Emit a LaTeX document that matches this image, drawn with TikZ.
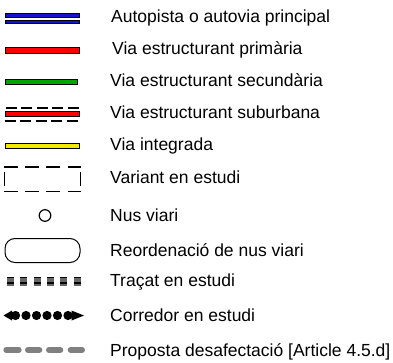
\documentclass[tikz,border=0pt]{standalone}
\usepackage{fontspec}
\setmainfont{Liberation Sans}
\definecolor{roadblue}{RGB}{20,20,200}
\definecolor{roadred}{RGB}{255,0,0}
\definecolor{roadgreen}{RGB}{0,165,0}
\definecolor{roadyellow}{RGB}{245,235,0}
\definecolor{propgray}{RGB}{128,128,128}
\begin{document}
\begin{tikzpicture}[x=1pt,y=-1pt,
  lbl/.style={anchor=base west,inner sep=0pt,font=\fontsize{17.5}{20}\selectfont},
  bar/.style={draw=black,line width=0.8pt},
  dashrow/.style={line width=2pt,dash pattern=on 11pt off 4.5pt},
  boxdash/.style={line width=1.3pt,dash pattern=on 13.5pt off 7.7pt},
  bead/.style={fill=black,draw=none}]
\useasboundingbox (0,0) rectangle (393,363);
% 1 Autopista
\filldraw[bar,fill=roadblue] (5,13.5) rectangle (79,17.5);
\filldraw[bar,fill=roadblue] (5,20.6) rectangle (79,23);
\node[lbl] (t1) at (111,23) {Autopista o autovia principal};
% 2 primaria
\filldraw[bar,fill=roadred] (5.5,47) rectangle (79,53);
\node[lbl] (t2) at (112,55) {Via estructurant primària};
% 3 secundaria
\filldraw[bar,fill=roadgreen] (5.5,79.5) rectangle (77.5,84.5);
\node[lbl] (t3) at (110,87) {Via estructurant secundària};
% 4 suburbana
\draw[dashrow] (5.5,108.3) -- (78.5,108.3);
\filldraw[bar,fill=roadred] (5.5,111.2) rectangle (79,116.8);
\draw[dashrow] (4.5,120.6) -- (78.5,120.6);
\node[lbl] (t4) at (110,119) {Via estructurant suburbana};
% 5 integrada
\filldraw[bar,fill=roadyellow] (5,143.5) rectangle (79,148.5);
\node[lbl] (t5) at (110,151) {Via integrada};
% 6 variant
\draw[boxdash] (4,167) -- (81,167);
\draw[boxdash] (4,191.5) -- (81,191.5);
\draw[line width=1.3pt] (4.4,172) -- (4.4,186);
\draw[line width=1.3pt] (80.6,172) -- (80.6,186);
\node[lbl] (t6) at (110,184) {Variant en estudi};
% 7 nus viari
\draw[line width=1.2pt] (45,215.5) circle (5.8);
\node[lbl] (t7) at (110,222) {Nus viari};
% 8 reordenacio
\draw[line width=1pt,rounded corners=10pt] (5,238.5) rectangle (80,262.5);
\node[lbl] (t8) at (110,256) {Reordenació de nus viari};
% 9 tracat
\foreach \x in {6.7,20.1,33.5,46.9,60.3,73.7}{
  \fill[propgray!80!black] (\x,277) rectangle ++(7,9);
  \draw[line width=1.2pt] (\x,277.6) -- ++(7,0);
  \draw[line width=1.2pt] (\x,283) -- ++(7,0);
}
\node[lbl] (t9) at (110,286) {Traçat en estudi};
% 10 corredor
\fill[bead] (3.5,315.5) -- (12,310.5) -- (12,320.5) -- cycle;
\foreach \x in {15.5,26,36.5,47,57.5,68}{\fill[bead] (\x,315.5) circle (4.6);}
\fill[bead] (84,315.5) -- (71.5,310.5) -- (71.5,320.5) -- cycle;
\node[lbl] (t10) at (110,321) {Corredor en estudi};
% 11 proposta
\foreach \a/\b in {6.3/18.7,28/39.3,49/60.3,70.7/82}{
  \draw[propgray,line width=6pt,line cap=round] (\a,350) -- (\b,350);
}
\node[lbl] (t11) at (110,356) {Proposta desafectació [Article 4.5.d]};
\end{tikzpicture}
\end{document}
